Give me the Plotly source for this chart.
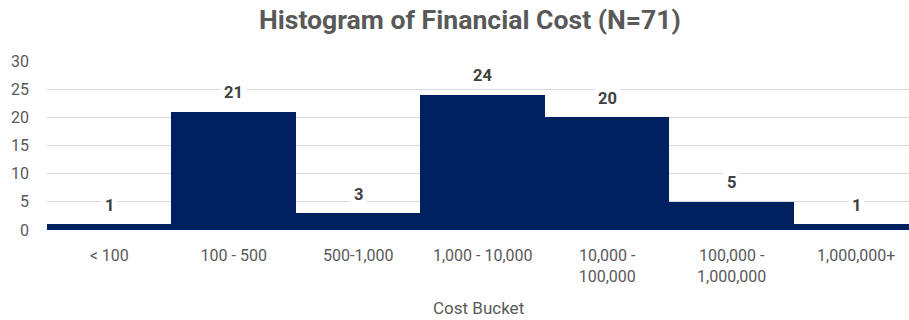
import plotly.graph_objects as go

# Cost buckets and their counts
categories = ["< 100", "100 - 500", "500-1,000", "1,000 - 10,000",
              "10,000 -<br>100,000", "100,000 -<br>1,000,000", "1,000,000+"]
counts = [1, 21, 3, 24, 20, 5, 1]
y_ticks = [0, 5, 10, 15, 20, 25, 30]

FONT = "Liberation Sans Narrow, Roboto, Arial"
NAVY = "#002060"
GRAY = "#595959"

xs = list(range(len(categories)))

fig = go.Figure(go.Bar(
    x=xs, y=counts, width=1.0,
    marker=dict(color=NAVY, line=dict(width=0)),
    hoverinfo="skip",
))

# Value labels above each bar, boxed in white so the gridlines break behind them
for xi, v in zip(xs, counts):
    fig.add_annotation(
        x=xi, y=v, xref="x", yref="y", text=f"<b>{v}</b>",
        showarrow=False, yshift=19, yanchor="middle",
        font=dict(family=FONT, size=16.5, color="#404040"),
        bgcolor="white", borderpad=3,
    )

fig.add_annotation(
    x=0.5, y=-(308 - 230) / 169, xref="paper", yref="paper",
    text="Cost Bucket", showarrow=False, xanchor="center", yanchor="middle",
    font=dict(family=FONT, size=17, color=GRAY),
)

fig.update_layout(
    width=909, height=320,
    margin=dict(l=47, r=0, t=61, b=90),
    paper_bgcolor="white", plot_bgcolor="white",
    bargap=0, showlegend=False,
    title=dict(
        text="<b>Histogram of Financial Cost (N=71)</b>",
        x=0.517, xanchor="center", y=1 - 20 / 320, yanchor="middle",
        xref="container",
        font=dict(family=FONT, size=26.6, color=GRAY),
    ),
    xaxis=dict(
        tickmode="array", tickvals=xs, ticktext=categories,
        range=[-0.5, 6.424], showgrid=False, zeroline=False,
        showline=False, ticks="", ticklabelstandoff=14,
        tickfont=dict(family=FONT, size=16, color=GRAY),
        fixedrange=True,
    ),
    yaxis=dict(
        range=[0, 30], tickvals=y_ticks, showgrid=True,
        gridcolor="#d9d9d9", gridwidth=1, zeroline=False,
        showline=False, ticks="", ticklabelstandoff=17,
        tickfont=dict(family=FONT, size=16, color=GRAY),
        fixedrange=True,
    ),
)

fig.write_html("out.html")
